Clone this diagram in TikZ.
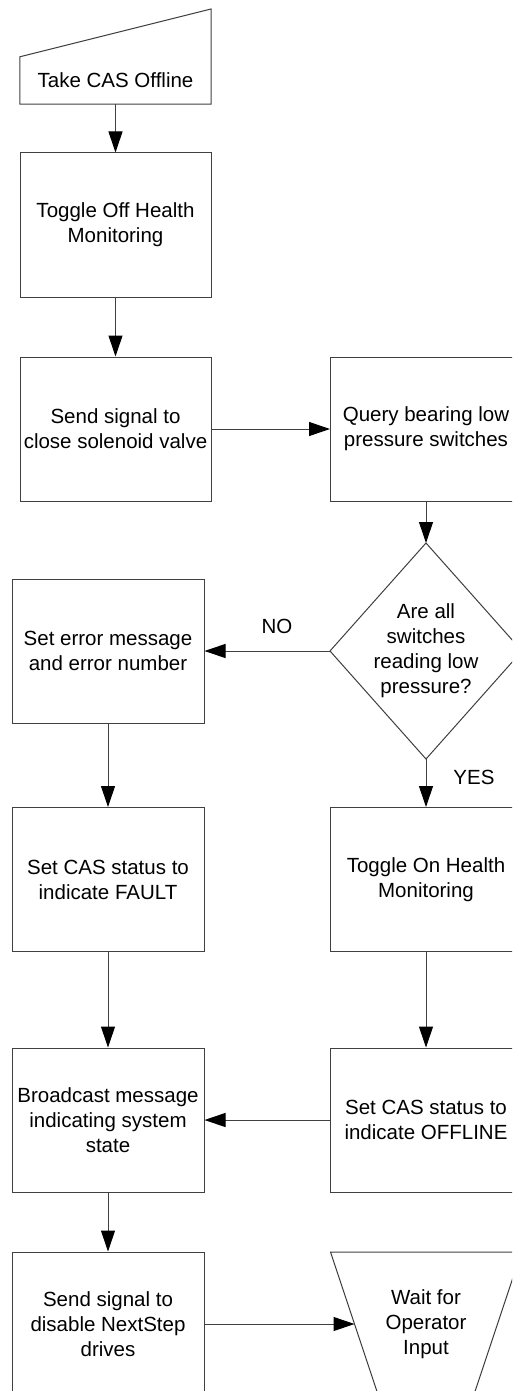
\documentclass[tikz,border=0pt]{standalone}
\usepackage{fontspec}
\setmainfont{Liberation Sans}
\usetikzlibrary{arrows.meta}
\begin{document}
\begin{tikzpicture}[x=1pt,y=-1pt,
  every node/.style={font=\fontsize{20.5}{25}\selectfont, align=center, inner sep=0pt},
  stepbox/.style={draw=black!75, line width=1pt, minimum width=191pt, minimum height=144pt},
  outline/.style={draw=black!75, line width=1pt, line join=miter},
  flow/.style={draw=black!75, line width=1pt, -{Triangle[length=21pt,width=14pt,color=black]}}
]
\useasboundingbox (0,0) rectangle (512,1391);
\clip (0,0) rectangle (512,1391);

% manual input: Take CAS Offline
\node[minimum width=191pt, minimum height=47pt] (start) at (115.5,80.5) {Take CAS Offline};
\draw[outline] (start.south west) -- (start.south east) -- (211,9) -- (start.north west) -- cycle;

% upper left column
\node[stepbox] (toggleoff) at (115.5,225) {Toggle Off Health\\Monitoring};
\node[stepbox] (sendclose) at (115.5,429) {Send signal to\\close solenoid valve};

% right column
\node[stepbox] (query) at (426,429) {Query bearing low\\pressure switches};

% decision diamond
\coordinate (dtop) at (426,543);
\coordinate (dright) at (522,651);
\coordinate (dbottom) at (426,759);
\coordinate (dleft) at (330,651);
\draw[outline] (dtop) -- (dright) -- (dbottom) -- (dleft) -- cycle;
\node (decision) at (426,651) {Are all\\switches\\reading low\\pressure?};

% lower left column
\node[stepbox, minimum width=192pt] (errmsg) at (108,651) {Set error message\\and error number};
\node[stepbox, minimum width=192pt] (fault) at (108,879.5) {Set CAS status to\\indicate FAULT};
\node[stepbox, minimum width=192pt] (broadcast) at (108,1120) {Broadcast message\\indicating system\\state};
\node[stepbox, minimum width=192pt] (nextstep) at (108,1324) {Send signal to\\disable NextStep\\drives};

% lower right column
\node[stepbox] (toggleon) at (426,879.5) {Toggle On Health\\Monitoring};
\node[stepbox] (offline) at (426,1120) {Set CAS status to\\indicate OFFLINE};

% manual operation: Wait for Operator Input
\coordinate (wtl) at (330.5,1252);
\coordinate (wtr) at (521.5,1252);
\coordinate (wbr) at (473.5,1396);
\coordinate (wbl) at (378.5,1396);
\coordinate (wentry) at (354.5,1324);
\draw[outline] (wtl) -- (wtr) -- (wbr) -- (wbl) -- cycle;
\node (wait) at (426,1324) {Wait for\\Operator\\Input};

% branch labels
\node (nolabel) at (277,626) {NO};
\node (yeslabel) at (474,777) {YES};

% connectors
\draw[flow] (start.south) -- (toggleoff.north);
\draw[flow] (toggleoff.south) -- (sendclose.north);
\draw[flow] (sendclose.east) -- (query.west);
\draw[flow] (query.south) -- (dtop);
\draw[flow] (dleft) -- (errmsg.east);
\draw[flow] (dbottom) -- (toggleon.north);
\draw[flow] (errmsg.south) -- (fault.north);
\draw[flow] (fault.south) -- (broadcast.north);
\draw[flow] (toggleon.south) -- (offline.north);
\draw[flow] (offline.west) -- (broadcast.east);
\draw[flow] (broadcast.south) -- (nextstep.north);
\draw[flow] (nextstep.east) -- (wentry);
\end{tikzpicture}
\end{document}
